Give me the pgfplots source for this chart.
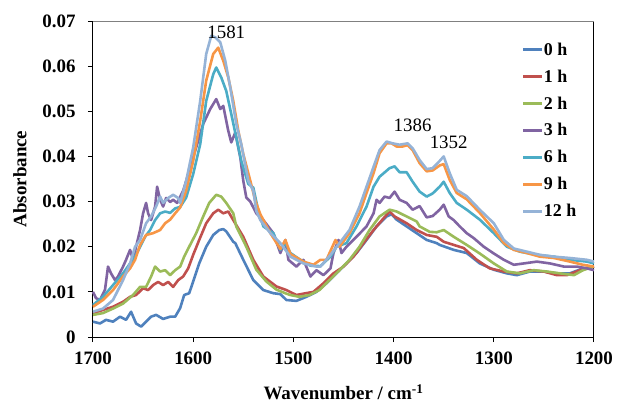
\documentclass[border=0pt]{standalone}
\usepackage{pgfplots}
\pgfplotsset{compat=1.18}
\usepackage{fontspec}
\setmainfont{Liberation Serif}
\definecolor{c0}{HTML}{4F81BD}
\definecolor{c1}{HTML}{C0504D}
\definecolor{c2}{HTML}{9BBB59}
\definecolor{c3}{HTML}{8064A2}
\definecolor{c6}{HTML}{4BACC6}
\definecolor{c9}{HTML}{F79646}
\definecolor{c12}{HTML}{95B3D7}
\begin{document}
\begin{tikzpicture}
\useasboundingbox (-93bp,-66bp) rectangle (524bp,337bp);
\begin{axis}[
  scale only axis, width=501bp, height=316bp,
  x dir=reverse, xmin=1200, xmax=1700, ymin=0, ymax=0.07,
  scaled y ticks=false, scaled x ticks=false,
  xtick={1200,1300,1400,1500,1600,1700},
  xticklabels={1200,1300,1400,1500,1600,1700},
  ytick={0,0.01,0.02,0.03,0.04,0.05,0.06,0.07},
  yticklabels={0,0.01,0.02,0.03,0.04,0.05,0.06,0.07},
  tick pos=left, tick align=outside, major tick length=5bp,
  axis line style={line width=1bp, black},
  every tick/.style={line width=1bp, black},
  tick label style={font=\bfseries\fontsize{19}{19}\selectfont},
  yticklabel style={xshift=-9bp},
  xticklabel style={yshift=-6bp},
  xlabel={Wavenumber / cm\textsuperscript{-1}},
  ylabel={Absorbance},
  every axis x label/.style={at={(axis description cs:0.5,-0.174)},anchor=center,font=\bfseries\fontsize{19}{19}\selectfont},
  every axis y label/.style={at={(axis description cs:-0.1457,0.5)},rotate=90,anchor=center,font=\bfseries\fontsize{19}{19}\selectfont},
  legend style={at={(axis description cs:0.8557,0.9335)}, anchor=north west, draw=none, fill=none,
    font=\bfseries\fontsize{18}{18}\selectfont, inner sep=0pt, row sep=12bp,
    nodes={inner sep=0.5bp}},
  legend cell align=left,
  legend image code/.code={\draw[#1, line width=2.6bp] (0bp,0bp) -- (19bp,0bp);},
  every axis plot/.append style={line width=2.6bp, line join=round, no markers},
  clip=false,
]
\addplot[c0] coordinates {
(1700,0.0034)(1693,0.0030)(1687,0.0038)(1680,0.0034)(1673,0.0045)(1667,0.0038)(1662,0.0056)(1657,0.0030)(1652,0.0023)(1647,0.0034)(1642,0.0045)(1637,0.0049)(1630,0.0040)(1623,0.0045)(1618,0.0045)(1613,0.0064)(1609,0.0093)(1604,0.0097)(1600,0.0123)(1594,0.0163)(1587,0.0200)(1580,0.0226)(1574,0.0237)(1570,0.0239)(1567,0.0234)(1560,0.0211)(1558,0.0208)(1550,0.0171)(1540,0.0126)(1530,0.0104)(1520,0.0097)(1513,0.0095)(1507,0.0082)(1497,0.0080)(1487,0.0089)(1477,0.0100)(1467,0.0119)(1457,0.0141)(1447,0.0163)(1437,0.0186)(1427,0.0215)(1417,0.0245)(1407,0.0267)(1402,0.0272)(1397,0.0260)(1387,0.0245)(1377,0.0230)(1367,0.0215)(1357,0.0208)(1354,0.0204)(1340,0.0193)(1327,0.0186)(1314,0.0163)(1300,0.0149)(1287,0.0141)(1277,0.0137)(1264,0.0145)(1250,0.0145)(1237,0.0141)(1224,0.0141)(1211,0.0152)(1200,0.0156)};
\addlegendentry{0 h}
\addplot[c1] coordinates {
(1700,0.0053)(1690,0.0060)(1680,0.0067)(1670,0.0078)(1663,0.0089)(1657,0.0093)(1650,0.0108)(1645,0.0104)(1640,0.0115)(1635,0.0122)(1630,0.0115)(1625,0.0122)(1620,0.0111)(1615,0.0126)(1610,0.0134)(1605,0.0152)(1600,0.0182)(1594,0.0215)(1587,0.0252)(1580,0.0274)(1575,0.0282)(1570,0.0274)(1565,0.0278)(1560,0.0259)(1550,0.0222)(1540,0.0171)(1530,0.0134)(1517,0.0112)(1507,0.0104)(1497,0.0093)(1490,0.0096)(1480,0.0100)(1470,0.0119)(1460,0.0141)(1450,0.0156)(1440,0.0178)(1430,0.0208)(1420,0.0237)(1410,0.0263)(1404,0.0278)(1399,0.0267)(1387,0.0252)(1377,0.0237)(1367,0.0226)(1357,0.0222)(1350,0.0211)(1340,0.0204)(1330,0.0197)(1317,0.0171)(1304,0.0152)(1290,0.0145)(1277,0.0141)(1264,0.0148)(1250,0.0145)(1237,0.0137)(1227,0.0137)(1214,0.0148)(1200,0.0156)};
\addlegendentry{1 h}
\addplot[c2] coordinates {
(1700,0.0049)(1690,0.0053)(1680,0.0063)(1670,0.0074)(1660,0.0093)(1653,0.0111)(1647,0.0111)(1642,0.0134)(1638,0.0156)(1633,0.0145)(1628,0.0148)(1623,0.0137)(1618,0.0148)(1613,0.0156)(1609,0.0178)(1604,0.0200)(1597,0.0230)(1590,0.0267)(1584,0.0297)(1577,0.0315)(1572,0.0311)(1567,0.0297)(1560,0.0274)(1557,0.0245)(1547,0.0200)(1537,0.0149)(1527,0.0123)(1517,0.0105)(1507,0.0096)(1503,0.0093)(1494,0.0089)(1484,0.0093)(1474,0.0104)(1464,0.0126)(1454,0.0148)(1444,0.0171)(1434,0.0200)(1424,0.0237)(1414,0.0267)(1404,0.0282)(1397,0.0278)(1387,0.0267)(1377,0.0256)(1374,0.0245)(1364,0.0233)(1357,0.0232)(1350,0.0237)(1340,0.0222)(1327,0.0204)(1314,0.0185)(1300,0.0163)(1287,0.0145)(1274,0.0141)(1260,0.0148)(1247,0.0145)(1234,0.0141)(1220,0.0137)(1211,0.0148)(1200,0.0156)};
\addlegendentry{2 h}
\addplot[c3] coordinates {
(1700,0.0100)(1697,0.0086)(1693,0.0082)(1688,0.0105)(1685,0.0156)(1682,0.0141)(1678,0.0126)(1675,0.0134)(1670,0.0156)(1667,0.0171)(1663,0.0193)(1660,0.0171)(1657,0.0200)(1653,0.0237)(1650,0.0274)(1647,0.0297)(1645,0.0274)(1642,0.0259)(1638,0.0289)(1636,0.0333)(1633,0.0304)(1630,0.0289)(1627,0.0308)(1623,0.0299)(1620,0.0304)(1616,0.0297)(1610,0.0324)(1603,0.0375)(1597,0.0420)(1590,0.0472)(1583,0.0505)(1577,0.0527)(1573,0.0505)(1570,0.0512)(1565,0.0457)(1562,0.0431)(1558,0.0453)(1553,0.0398)(1550,0.0346)(1547,0.0309)(1543,0.0300)(1537,0.0274)(1530,0.0259)(1520,0.0230)(1513,0.0186)(1508,0.0215)(1505,0.0171)(1497,0.0156)(1490,0.0171)(1483,0.0134)(1477,0.0148)(1470,0.0137)(1463,0.0152)(1460,0.0186)(1455,0.0215)(1452,0.0186)(1447,0.0200)(1437,0.0222)(1427,0.0245)(1420,0.0274)(1417,0.0304)(1414,0.0297)(1409,0.0311)(1404,0.0308)(1399,0.0322)(1394,0.0304)(1387,0.0297)(1381,0.0282)(1374,0.0290)(1367,0.0265)(1361,0.0268)(1354,0.0282)(1350,0.0293)(1345,0.0267)(1340,0.0259)(1334,0.0245)(1327,0.0230)(1320,0.0219)(1310,0.0200)(1300,0.0185)(1290,0.0171)(1280,0.0160)(1270,0.0163)(1257,0.0167)(1244,0.0163)(1230,0.0156)(1217,0.0156)(1207,0.0152)(1200,0.0148)};
\addlegendentry{3 h}
\addplot[c6] coordinates {
(1700,0.0071)(1690,0.0089)(1680,0.0115)(1670,0.0141)(1663,0.0163)(1658,0.0178)(1653,0.0200)(1648,0.0222)(1643,0.0237)(1638,0.0259)(1633,0.0274)(1628,0.0278)(1623,0.0275)(1618,0.0285)(1613,0.0288)(1607,0.0309)(1600,0.0361)(1593,0.0427)(1587,0.0523)(1580,0.0582)(1577,0.0597)(1572,0.0575)(1567,0.0545)(1562,0.0494)(1557,0.0442)(1552,0.0390)(1545,0.0339)(1540,0.0331)(1535,0.0279)(1530,0.0245)(1520,0.0230)(1513,0.0193)(1508,0.0208)(1503,0.0186)(1493,0.0171)(1483,0.0158)(1473,0.0157)(1463,0.0178)(1457,0.0200)(1447,0.0208)(1437,0.0245)(1427,0.0289)(1420,0.0333)(1414,0.0355)(1404,0.0374)(1399,0.0378)(1394,0.0365)(1387,0.0365)(1381,0.0344)(1374,0.0322)(1367,0.0311)(1361,0.0318)(1354,0.0333)(1350,0.0344)(1344,0.0319)(1337,0.0297)(1327,0.0282)(1314,0.0260)(1300,0.0230)(1287,0.0200)(1274,0.0189)(1257,0.0182)(1240,0.0178)(1224,0.0171)(1207,0.0167)(1200,0.0163)};
\addlegendentry{6 h}
\addplot[c9] coordinates {
(1700,0.0067)(1690,0.0082)(1680,0.0104)(1670,0.0134)(1663,0.0152)(1658,0.0171)(1653,0.0204)(1647,0.0226)(1640,0.0230)(1633,0.0237)(1628,0.0252)(1623,0.0260)(1618,0.0274)(1613,0.0287)(1607,0.0324)(1600,0.0390)(1593,0.0479)(1587,0.0568)(1580,0.0627)(1575,0.0641)(1570,0.0612)(1565,0.0575)(1560,0.0523)(1555,0.0457)(1550,0.0405)(1543,0.0346)(1538,0.0302)(1533,0.0272)(1523,0.0230)(1513,0.0195)(1508,0.0215)(1503,0.0184)(1490,0.0167)(1480,0.0160)(1473,0.0171)(1467,0.0171)(1458,0.0215)(1454,0.0200)(1444,0.0230)(1434,0.0274)(1427,0.0319)(1420,0.0363)(1414,0.0407)(1407,0.0429)(1402,0.0429)(1397,0.0422)(1391,0.0422)(1386,0.0425)(1381,0.0414)(1374,0.0385)(1367,0.0367)(1361,0.0369)(1354,0.0380)(1350,0.0383)(1344,0.0348)(1337,0.0319)(1327,0.0305)(1314,0.0275)(1300,0.0238)(1290,0.0208)(1280,0.0193)(1267,0.0186)(1254,0.0178)(1240,0.0175)(1224,0.0167)(1211,0.0160)(1200,0.0156)};
\addlegendentry{9 h}
\addplot[c12] coordinates {
(1700,0.0056)(1690,0.0063)(1680,0.0082)(1670,0.0126)(1663,0.0163)(1658,0.0200)(1653,0.0215)(1647,0.0252)(1642,0.0267)(1637,0.0289)(1633,0.0311)(1630,0.0297)(1625,0.0308)(1620,0.0315)(1615,0.0308)(1613,0.0297)(1607,0.0346)(1600,0.0420)(1593,0.0523)(1587,0.0627)(1582,0.0667)(1578,0.0664)(1573,0.0653)(1568,0.0612)(1563,0.0553)(1557,0.0472)(1552,0.0427)(1545,0.0346)(1540,0.0324)(1537,0.0279)(1533,0.0259)(1523,0.0230)(1513,0.0208)(1503,0.0178)(1490,0.0163)(1477,0.0156)(1473,0.0156)(1463,0.0182)(1454,0.0208)(1444,0.0237)(1434,0.0289)(1427,0.0333)(1420,0.0377)(1414,0.0414)(1407,0.0433)(1401,0.0429)(1394,0.0426)(1386,0.0429)(1381,0.0418)(1374,0.0392)(1367,0.0372)(1361,0.0374)(1354,0.0390)(1350,0.0400)(1344,0.0363)(1337,0.0326)(1327,0.0312)(1314,0.0282)(1300,0.0252)(1290,0.0215)(1280,0.0196)(1267,0.0189)(1254,0.0182)(1240,0.0178)(1224,0.0175)(1207,0.0171)(1200,0.0167)};
\addlegendentry{12 h}
\draw[gray, line width=1bp] (rel axis cs:0,1) -- (rel axis cs:1,1);
\node[font=\fontsize{19}{19}\selectfont] at (axis cs:1567,0.0674) {1581};
\node[font=\fontsize{19}{19}\selectfont] at (axis cs:1381,0.0468) {1386};
\node[font=\fontsize{19}{19}\selectfont] at (axis cs:1345,0.0431) {1352};
\end{axis}
\end{tikzpicture}
\end{document}
